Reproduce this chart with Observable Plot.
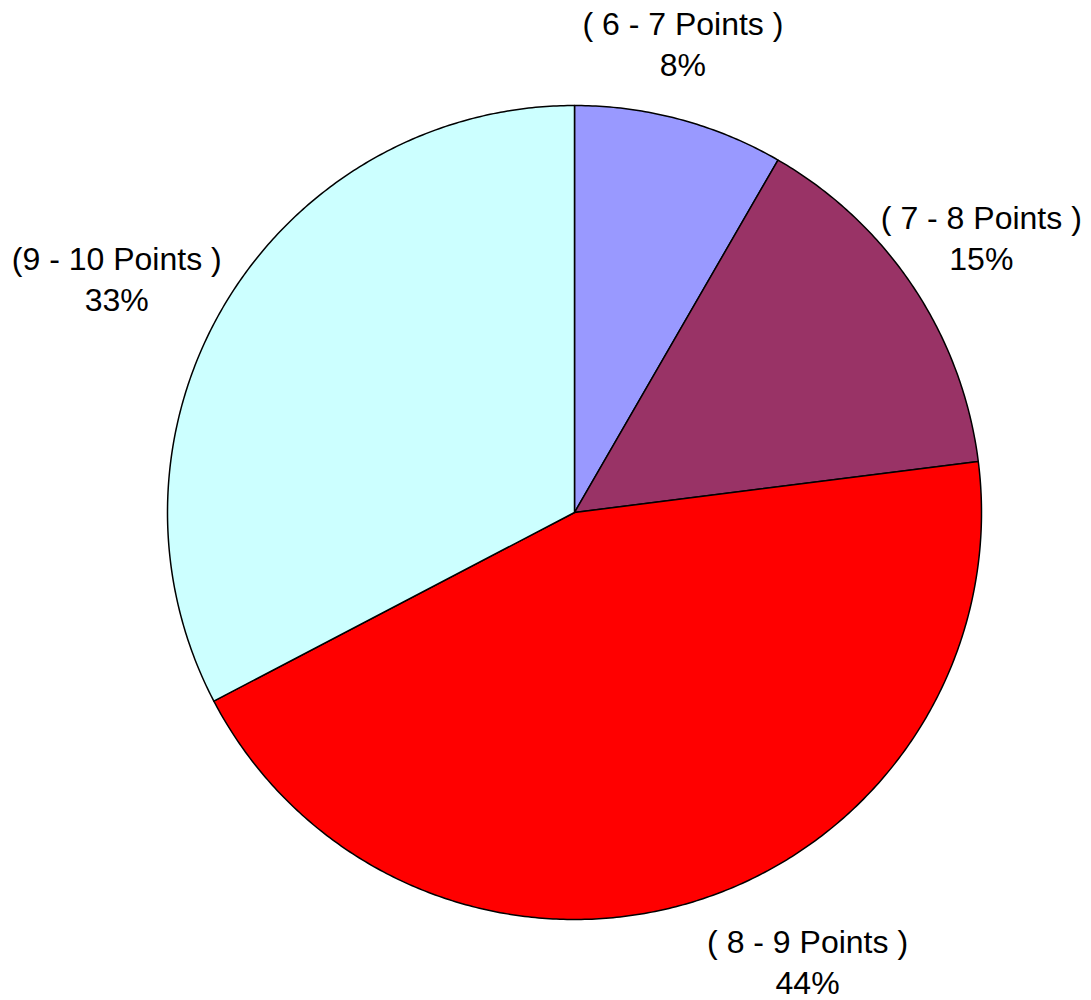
<!DOCTYPE html>
<html>
<head>
<meta charset="utf-8">
<script src="https://cdn.jsdelivr.net/npm/d3@7"></script>
<script src="https://cdn.jsdelivr.net/npm/@observablehq/plot@0.6"></script>
<style>
  html, body { margin: 0; padding: 0; background: #fff; }
  #chart svg { display: block; background: #fff; overflow: visible; }
</style>
</head>
<body>
<div id="chart"></div>
<script>
// ---- data ----
const categories = ["( 6 - 7 Points )", "( 7 - 8 Points )", "( 8 - 9 Points )", "(9 - 10 Points )"];
const counts = [25, 44, 133, 98];
const colors = ["#9999FF", "#993366", "#FF0000", "#CCFFFF"];

// ---- layout (label nudges in pixels, not data) ----
const R = 407;
const labelRadius = 1.2;
const labelNudgeX = [-18, 0, 87, -40];
const labelNudgeY = [2, -6, -18, 18];

const total = d3.sum(counts);
let acc = 0;
const slices = counts.map((v, i) => {
  const a0 = acc / total * 2 * Math.PI;
  acc += v;
  const a1 = acc / total * 2 * Math.PI;
  return {category: categories[i], value: v, a0, a1, pct: Math.round(v / total * 100)};
});

// polygon points of each slice (angle measured clockwise from 12 o'clock)
const pts = [];
for (const s of slices) {
  pts.push({category: s.category, x: 0, y: 0});
  const n = Math.max(2, Math.ceil((s.a1 - s.a0) / (Math.PI / 360)));
  for (let k = 0; k <= n; k++) {
    const a = s.a0 + (s.a1 - s.a0) * k / n;
    pts.push({category: s.category, x: Math.sin(a), y: Math.cos(a)});
  }
}

const labels = slices.map((s, i) => {
  const m = (s.a0 + s.a1) / 2;
  return {
    text: `${s.category}\n${s.pct}%`,
    x: labelRadius * Math.sin(m) + labelNudgeX[i] / R,
    y: labelRadius * Math.cos(m) - labelNudgeY[i] / R
  };
});

const chart = Plot.plot({
  width: 1091,
  height: 1000,
  marginLeft: 167,
  marginRight: 110,
  marginTop: 105,
  marginBottom: 81,
  x: {domain: [-1, 1], axis: null},
  y: {domain: [-1, 1], axis: null},
  color: {domain: categories, range: colors},
  style: {fontFamily: "'Liberation Sans', Arial, sans-serif", background: "#fff"},
  marks: [
    Plot.line(pts, {x: "x", y: "y", z: "category", fill: "category", stroke: "black", strokeWidth: 1.5, curve: "linear-closed", strokeLinejoin: "round"}),
    Plot.text(labels, {x: "x", y: "y", text: "text", fontSize: 32, lineHeight: 1.28, fill: "black", textAnchor: "middle", lineAnchor: "middle"})
  ]
});
document.getElementById("chart").appendChild(chart);
</script>
</body>
</html>
